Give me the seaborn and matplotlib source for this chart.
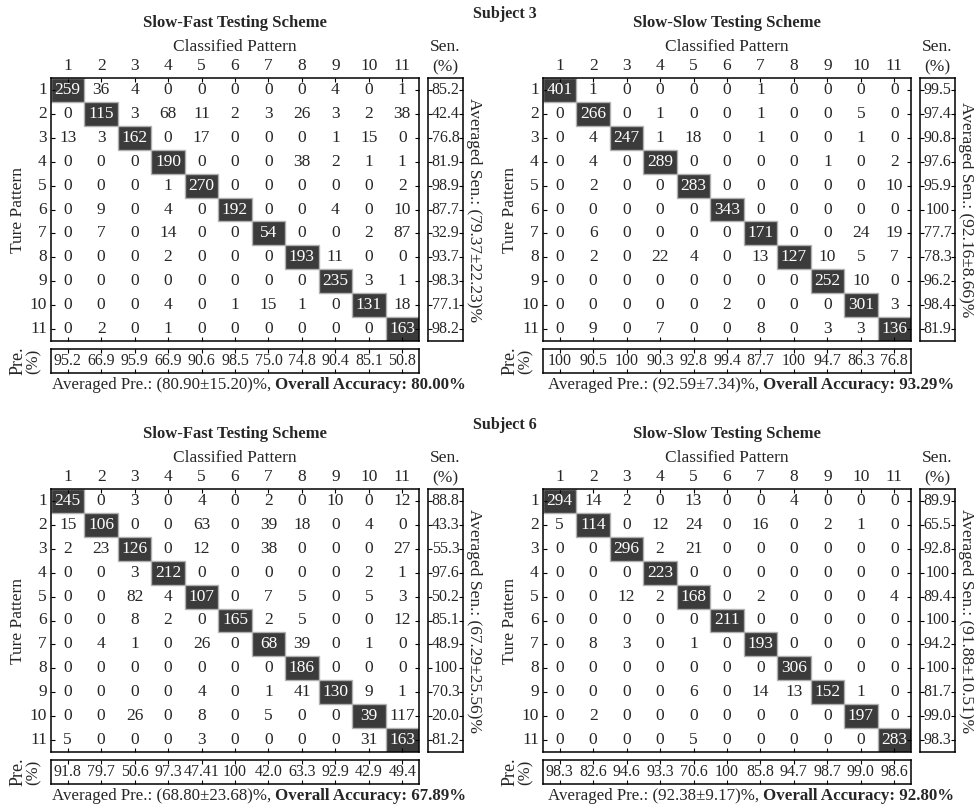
import numpy as np
import matplotlib
matplotlib.use("Agg")
import matplotlib.pyplot as plt
from matplotlib.colors import ListedColormap
from matplotlib.patches import Rectangle
import seaborn as sns

sns.set_style("white")
plt.rcParams["font.family"] = ["Liberation Serif", "DejaVu Serif"]
plt.rcParams["axes.axisbelow"] = False

patterns = [str(i) for i in range(1, 12)]

# ---- Subject 3, Slow-Fast testing scheme ----
s3_fast = np.array([
    [259, 36, 4, 0, 0, 0, 0, 0, 4, 0, 1],
    [0, 115, 3, 68, 11, 2, 3, 26, 3, 2, 38],
    [13, 3, 162, 0, 17, 0, 0, 0, 1, 15, 0],
    [0, 0, 0, 190, 0, 0, 0, 38, 2, 1, 1],
    [0, 0, 0, 1, 270, 0, 0, 0, 0, 0, 2],
    [0, 9, 0, 4, 0, 192, 0, 0, 4, 0, 10],
    [0, 7, 0, 14, 0, 0, 54, 0, 0, 2, 87],
    [0, 0, 0, 2, 0, 0, 0, 193, 11, 0, 0],
    [0, 0, 0, 0, 0, 0, 0, 0, 235, 3, 1],
    [0, 0, 0, 4, 0, 1, 15, 1, 0, 131, 18],
    [0, 2, 0, 1, 0, 0, 0, 0, 0, 0, 163],
])
s3_fast_sen = ["85.2", "42.4", "76.8", "81.9", "98.9", "87.7", "32.9", "93.7", "98.3", "77.1", "98.2"]
s3_fast_pre = ["95.2", "66.9", "95.9", "66.9", "90.6", "98.5", "75.0", "74.8", "90.4", "85.1", "50.8"]
s3_fast_avg_sen = "(79.37±22.23)%"
s3_fast_avg_pre = "(80.90±15.20)%"
s3_fast_acc = "80.00%"

# ---- Subject 3, Slow-Slow testing scheme ----
s3_slow = np.array([
    [401, 1, 0, 0, 0, 0, 1, 0, 0, 0, 0],
    [0, 266, 0, 1, 0, 0, 1, 0, 0, 5, 0],
    [0, 4, 247, 1, 18, 0, 1, 0, 0, 1, 0],
    [0, 4, 0, 289, 0, 0, 0, 0, 1, 0, 2],
    [0, 2, 0, 0, 283, 0, 0, 0, 0, 0, 10],
    [0, 0, 0, 0, 0, 343, 0, 0, 0, 0, 0],
    [0, 6, 0, 0, 0, 0, 171, 0, 0, 24, 19],
    [0, 2, 0, 22, 4, 0, 13, 127, 10, 5, 7],
    [0, 0, 0, 0, 0, 0, 0, 0, 252, 10, 0],
    [0, 0, 0, 0, 0, 2, 0, 0, 0, 301, 3],
    [0, 9, 0, 7, 0, 0, 8, 0, 3, 3, 136],
])
s3_slow_sen = ["99.5", "97.4", "90.8", "97.6", "95.9", "100", "77.7", "78.3", "96.2", "98.4", "81.9"]
s3_slow_pre = ["100", "90.5", "100", "90.3", "92.8", "99.4", "87.7", "100", "94.7", "86.3", "76.8"]
s3_slow_avg_sen = "(92.16±8.66)%"
s3_slow_avg_pre = "(92.59±7.34)%"
s3_slow_acc = "93.29%"

# ---- Subject 6, Slow-Fast testing scheme ----
s6_fast = np.array([
    [245, 0, 3, 0, 4, 0, 2, 0, 10, 0, 12],
    [15, 106, 0, 0, 63, 0, 39, 18, 0, 4, 0],
    [2, 23, 126, 0, 12, 0, 38, 0, 0, 0, 27],
    [0, 0, 3, 212, 0, 0, 0, 0, 0, 2, 1],
    [0, 0, 82, 4, 107, 0, 7, 5, 0, 5, 3],
    [0, 0, 8, 2, 0, 165, 2, 5, 0, 0, 12],
    [0, 4, 1, 0, 26, 0, 68, 39, 0, 1, 0],
    [0, 0, 0, 0, 0, 0, 0, 186, 0, 0, 0],
    [0, 0, 0, 0, 4, 0, 1, 41, 130, 9, 1],
    [0, 0, 26, 0, 8, 0, 5, 0, 0, 39, 117],
    [5, 0, 0, 0, 3, 0, 0, 0, 0, 31, 163],
])
s6_fast_sen = ["88.8", "43.3", "55.3", "97.6", "50.2", "85.1", "48.9", "100", "70.3", "20.0", "81.2"]
s6_fast_pre = ["91.8", "79.7", "50.6", "97.3", "47.41", "100", "42.0", "63.3", "92.9", "42.9", "49.4"]
s6_fast_avg_sen = "(67.29±25.56)%"
s6_fast_avg_pre = "(68.80±23.68)%"
s6_fast_acc = "67.89%"

# ---- Subject 6, Slow-Slow testing scheme ----
s6_slow = np.array([
    [294, 14, 2, 0, 13, 0, 0, 4, 0, 0, 0],
    [5, 114, 0, 12, 24, 0, 16, 0, 2, 1, 0],
    [0, 0, 296, 2, 21, 0, 0, 0, 0, 0, 0],
    [0, 0, 0, 223, 0, 0, 0, 0, 0, 0, 0],
    [0, 0, 12, 2, 168, 0, 2, 0, 0, 0, 4],
    [0, 0, 0, 0, 0, 211, 0, 0, 0, 0, 0],
    [0, 8, 3, 0, 1, 0, 193, 0, 0, 0, 0],
    [0, 0, 0, 0, 0, 0, 0, 306, 0, 0, 0],
    [0, 0, 0, 0, 6, 0, 14, 13, 152, 1, 0],
    [0, 2, 0, 0, 0, 0, 0, 0, 0, 197, 0],
    [0, 0, 0, 0, 5, 0, 0, 0, 0, 0, 283],
])
s6_slow_sen = ["89.9", "65.5", "92.8", "100", "89.4", "100", "94.2", "100", "81.7", "99.0", "98.3"]
s6_slow_pre = ["98.3", "82.6", "94.6", "93.3", "70.6", "100", "85.8", "94.7", "98.7", "99.0", "98.6"]
s6_slow_avg_sen = "(91.88±10.51)%"
s6_slow_avg_pre = "(92.38±9.17)%"
s6_slow_acc = "92.80%"

W, H = 974, 806
fig = plt.figure(figsize=(W / 100, H / 100), dpi=100)
fig.patch.set_facecolor("white")

white_cmap = ListedColormap(["white"])
dark_cmap = ListedColormap(["#3b3b3b"])
TICK = dict(direction="in", length=3, width=0.8, color="black")


def rect(x0, y0, x1, y1):
    return [x0 / W, 1 - y1 / H, (x1 - x0) / W, (y1 - y0) / H]


def ftext(x, y, s, **kw):
    return fig.text(x / W, 1 - y / H, s, **kw)


def box(ax, lw=1.1):
    ax.set_axisbelow(False)
    for sp in ax.spines.values():
        sp.set_visible(True)
        sp.set_linewidth(lw)
        sp.set_color("black")
        sp.set_zorder(5)


def two_part(xc, y, regular, bold, size):
    t1 = ftext(0, y, regular, fontsize=size, ha="left", va="center")
    t2 = ftext(0, y, bold, fontsize=size, fontweight="bold", ha="left", va="center")
    r = fig.canvas.get_renderer()
    w1 = t1.get_window_extent(r).width
    w2 = t2.get_window_extent(r).width
    gap = 4
    start = xc - (w1 + gap + w2) / 2
    t1.set_position((start / W, 1 - y / H))
    t2.set_position(((start + w1 + gap) / W, 1 - y / H))


def panel(ox, oy, title, cm, sen, pre, avg_sen, avg_pre, acc):
    n = cm.shape[0]
    diag = np.eye(n, dtype=bool)

    # confusion matrix: off-diagonal cells white, diagonal cells dark
    ax = fig.add_axes(rect(51 + ox, 78 + oy, 419 + ox, 341 + oy))
    sns.heatmap(cm, mask=diag, cmap=white_cmap, annot=True, fmt="d", cbar=False,
                annot_kws={"fontsize": 12.5}, ax=ax,
                xticklabels=patterns, yticklabels=patterns)
    sns.heatmap(cm, mask=~diag, cmap=dark_cmap, annot=True, fmt="d", cbar=False,
                annot_kws={"fontsize": 12.5, "color": "white"}, ax=ax,
                xticklabels=patterns, yticklabels=patterns)
    for i in range(n):
        ax.add_patch(Rectangle((i, i), 1, 1, fill=False, edgecolor="#b0b0b0",
                               linewidth=1.0, zorder=3))
    ax.xaxis.tick_top()
    ax.tick_params(axis="both", top=True, bottom=True, left=True, right=True,
                   labeltop=True, labelbottom=False, labelleft=True, labelright=False,
                   labelsize=12.5, pad=3, **TICK)
    plt.setp(ax.get_yticklabels(), rotation=0)
    plt.setp(ax.get_xticklabels(), rotation=0)
    box(ax)

    # sensitivity column
    axs = fig.add_axes(rect(428 + ox, 78 + oy, 463 + ox, 341 + oy))
    sen_vals = np.array([float(v) for v in sen]).reshape(n, 1)
    sns.heatmap(sen_vals, cmap=white_cmap, annot=np.array(sen).reshape(n, 1), fmt="",
                cbar=False, annot_kws={"fontsize": 11.5}, ax=axs,
                xticklabels=False, yticklabels=False)
    axs.set_yticks(np.arange(n) + 0.5)
    axs.set_yticklabels([])
    axs.set_xticks([])
    axs.tick_params(axis="y", left=True, right=True, labelleft=False, **TICK)
    box(axs)

    # precision row
    axp = fig.add_axes(rect(51 + ox, 349 + oy, 419 + ox, 373 + oy))
    pre_vals = np.array([float(v) for v in pre]).reshape(1, n)
    sns.heatmap(pre_vals, cmap=white_cmap, annot=np.array(pre).reshape(1, n), fmt="",
                cbar=False, annot_kws={"fontsize": 11.5}, ax=axp,
                xticklabels=False, yticklabels=False)
    axp.set_xticks(np.arange(n) + 0.5)
    axp.set_xticklabels([])
    axp.set_yticks([])
    axp.tick_params(axis="x", top=True, bottom=True, labelbottom=False, **TICK)
    box(axp)

    # surrounding labels
    ftext(235 + ox, 23 + oy, title, fontsize=12, fontweight="bold", ha="center", va="center")
    ftext(235 + ox, 47 + oy, "Classified Pattern", fontsize=12.5, ha="center", va="center")
    ftext(445 + ox, 47 + oy, "Sen.", fontsize=12.5, ha="center", va="center")
    ftext(445 + ox, 67 + oy, "(%)", fontsize=12.5, ha="center", va="center")
    ftext(18 + ox, 210 + oy, "Ture Pattern", fontsize=12.5, rotation=90, ha="center", va="center")
    ftext(18 + ox, 361 + oy, "Pre.", fontsize=13, rotation=90, ha="center", va="center")
    ftext(34 + ox, 361 + oy, "(%)", fontsize=12, rotation=90, ha="center", va="center")
    ftext(474 + ox, 210 + oy, "Averaged Sen.: " + avg_sen, fontsize=12.5, rotation=-90,
          ha="center", va="center")
    two_part(259 + ox, 385 + oy, "Averaged Pre.: " + avg_pre + ",",
             "Overall Accuracy: " + acc, 12.2)


panel(0, 0, "Slow-Fast Testing Scheme", s3_fast, s3_fast_sen, s3_fast_pre,
      s3_fast_avg_sen, s3_fast_avg_pre, s3_fast_acc)
panel(492, 0, "Slow-Slow Testing Scheme", s3_slow, s3_slow_sen, s3_slow_pre,
      s3_slow_avg_sen, s3_slow_avg_pre, s3_slow_acc)
panel(0, 411, "Slow-Fast Testing Scheme", s6_fast, s6_fast_sen, s6_fast_pre,
      s6_fast_avg_sen, s6_fast_avg_pre, s6_fast_acc)
panel(492, 411, "Slow-Slow Testing Scheme", s6_slow, s6_slow_sen, s6_slow_pre,
      s6_slow_avg_sen, s6_slow_avg_pre, s6_slow_acc)

ftext(505, 14, "Subject 3", fontsize=11.5, fontweight="bold", ha="center", va="center")
ftext(505, 425, "Subject 6", fontsize=11.5, fontweight="bold", ha="center", va="center")

fig.savefig("out.png", dpi=100, facecolor="white")
